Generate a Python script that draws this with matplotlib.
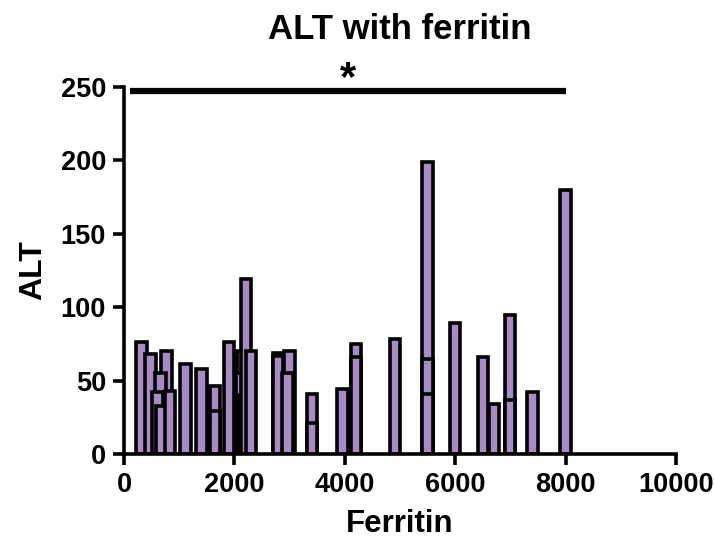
import matplotlib.pyplot as plt

plt.rcParams['font.family'] = ['Liberation Sans', 'DejaVu Sans']
plt.rcParams['font.weight'] = 'bold'

# ferritin value of each bar, in drawing order
ferritin = [320, 480, 770, 660, 605, 680, 835,
            1110, 1405, 1650, 1650,
            1900, 2140, 2120, 2180, 2210, 2300,
            2800, 2790, 3000, 2960,
            3410, 3410, 3960, 4200, 4200, 4910,
            5500, 5500, 5500, 6000, 6500, 6700, 6995, 6995, 7400, 8000]
alt = [76, 68, 70, 55, 42, 33, 43,
       61, 58, 46, 29,
       76, 70, 55, 40, 119, 70,
       69, 67, 70, 55,
       41, 21, 44, 75, 66, 78,
       199, 65, 41, 89, 66, 34, 95, 37, 42, 180]

sig_start, sig_end, sig_y = 100, 8000, 247

fig = plt.figure(figsize=(7.14, 5.45), dpi=100)
ax = fig.add_axes([0.1737, 0.167, 0.7731, 0.6735])

for f, a in zip(ferritin, alt):
    ax.bar(f, a, width=190, color='#A68BC4', edgecolor='black', linewidth=2.6)

ax.plot([sig_start, sig_end], [sig_y, sig_y], color='black', lw=4.5, clip_on=False,
        solid_capstyle='butt')
ax.text((sig_start + sig_end) / 2, sig_y - 5, '*', ha='center', va='bottom',
        fontsize=30, fontweight='bold')

ax.set_xlim(0, 10000)
ax.set_ylim(0, 250)
ax.set_xticks(range(0, 10001, 2000))
ax.set_yticks(range(0, 251, 50))
for s in ['top', 'right']:
    ax.spines[s].set_visible(False)
for s in ['left', 'bottom']:
    ax.spines[s].set_linewidth(2.6)
ax.tick_params(width=2.6, length=8, labelsize=19.5, pad=5)
for lab in ax.get_xticklabels() + ax.get_yticklabels():
    lab.set_fontweight('bold')

ax.set_xlabel('Ferritin', fontsize=22.5, fontweight='bold', labelpad=8)
ax.set_ylabel('ALT', fontsize=23, fontweight='bold', labelpad=9)
fig.text(0.56, 0.945, 'ALT with ferritin', ha='center', va='center',
         fontsize=25, fontweight='bold')

fig.savefig('out.png', dpi=100)
